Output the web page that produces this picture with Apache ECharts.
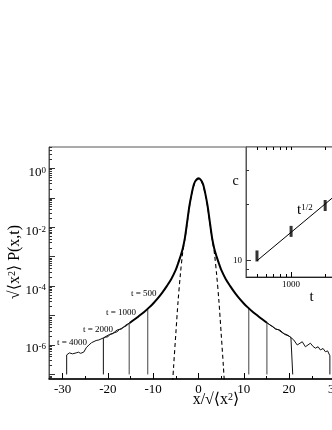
<!DOCTYPE html>
<html>
<head>
<meta charset="utf-8">
<title>Scaling function</title>
<script src="https://cdn.jsdelivr.net/npm/echarts@6/dist/echarts.min.js"></script>
<style>html,body{margin:0;padding:0;background:#fff;}</style>
</head>
<body>
<div id="main" style="width:332px;height:430px;"></div>
<script type="text/javascript">
var FONT = '"Liberation Serif", "DejaVu Serif", serif';

// main panel: x in units of sqrt(<x^2>), P scaled
var xTicks = [-30, -20, -10, 0, 10, 20, 30];
var xMinorTicks = [-25, -15, -5, 5, 15, 25];
var yLabelVals = [1e-6, 1e-4, 1e-2, 1];
var yDecades = [1e-7, 1e-6, 1e-5, 1e-4, 1e-3, 1e-2, 1e-1, 1];

// overlapping part of all curves (drawn thick)
var coreX = [-15.2, -14, -13, -12, -11, -10, -9, -8, -7, -6, -5, -4.5, -4, -3.5, -3, -2.5, -2, -1.5, -1, -0.5, 0,
             0.5, 1, 1.5, 2, 2.5, 3, 3.5, 4, 4.5, 5, 6, 7, 8, 9, 10, 11, 12, 13, 14, 15.1];
var coreP = [5.6e-6, 7.6e-6, 1.0e-5, 1.32e-5, 1.82e-5, 2.57e-5, 3.8e-5, 6.0e-5, 1.0e-4, 1.74e-4, 3.6e-4, 5.9e-4, 1.0e-3, 1.82e-3, 4.37e-3, 1.51e-2, 5.37e-2, 0.138, 0.295, 0.407, 0.457,
             0.407, 0.295, 0.138, 5.37e-2, 1.51e-2, 4.37e-3, 1.82e-3, 1.0e-3, 5.9e-4, 3.6e-4, 1.74e-4, 1.0e-4, 6.0e-5, 3.8e-5, 2.57e-5, 1.82e-5, 1.32e-5, 1.0e-5, 7.6e-6, 5.7e-6];

// dashed gaussian
var gaussX = [-5.8, -5.5, -5, -4.5, -4, -3.5, -3, -2.5, -2, -1.5, -1, -0.5, 0, 0.5, 1, 1.5, 2, 2.5, 3, 3.5, 4, 4.5, 5, 5.5, 5.8];
var gaussP = [3.2e-8, 1.8e-7, 2.5e-6, 3.2e-5, 2.5e-4, 1.35e-3, 3.98e-3, 1.41e-2, 5.0e-2, 0.132, 0.263, 0.380, 0.437,
              0.380, 0.263, 0.132, 5.0e-2, 1.41e-2, 3.98e-3, 1.35e-3, 2.5e-4, 3.2e-5, 2.5e-6, 1.8e-7, 3.2e-8];

// ends of each curve (drop to the floor)
var t500LX = [-11.2, -11.2], t500LP = [1.75e-5, 1e-7];
var t500RX = [11.1, 11.1], t500RP = [1.8e-5, 1e-7];
var t1000LX = [-15.3, -15.3], t1000LP = [5.5e-6, 1e-7];
var t1000RX = [15.1, 15.1], t1000RP = [5.7e-6, 1e-7];

var t2000LX = [-15.2, -16, -16.6, -17, -17.5, -18, -18.6, -19, -19.5, -20, -20.5, -21, -21];
var t2000LP = [5.6e-6, 4.4e-6, 4.0e-6, 3.7e-6, 3.3e-6, 2.8e-6, 2.6e-6, 2.5e-6, 2.3e-6, 1.9e-6, 1.85e-6, 1.7e-6, 1e-7];
var t2000RX = [15.1, 16, 16.5, 17, 17.6, 18, 18.5, 19, 19.6, 20, 20.4, 20.8, 20.8];
var t2000RP = [5.7e-6, 4.5e-6, 4.2e-6, 3.5e-6, 3.3e-6, 3.0e-6, 2.6e-6, 2.4e-6, 2.2e-6, 2.0e-6, 1.8e-6, 1.55e-6, 1e-7];

var t4000LX = [-15.2, -16, -17, -17.5, -18, -19, -19.6, -20, -21, -22, -22.6, -23, -23.6, -24.2, -24.8, -25.3, -26, -26.5, -27, -27.8, -28.5, -29.1, -29.1];
var t4000LP = [5.6e-6, 4.8e-6, 3.5e-6, 3.4e-6, 3.2e-6, 2.4e-6, 2.3e-6, 2.1e-6, 1.74e-6, 1.48e-6, 1.42e-6, 1.32e-6, 1.2e-6, 1.0e-6, 8.0e-7, 5.8e-7, 5.2e-7, 5.7e-7, 5.4e-7, 5.0e-7, 5.4e-7, 4.6e-7, 1e-7];
var t4000RX = [15.1, 16, 17, 18, 19, 20, 21, 21.8, 22.9, 23.6, 24.7, 25.3, 25.8, 26.4, 26.9, 27.5, 28.0, 28.5, 29.0, 29.0];
var t4000RP = [5.7e-6, 4.6e-6, 3.5e-6, 3.2e-6, 2.3e-6, 2.0e-6, 1.5e-6, 1.0e-6, 1.29e-6, 8.7e-7, 1.15e-6, 8.9e-7, 7.8e-7, 8.7e-7, 6.8e-7, 7.6e-7, 5.9e-7, 6.3e-7, 4.3e-7, 1e-7];

// inset: c vs t
var insetT = [500, 1000, 2000];
var insetC = [10.6, 14.3, 19.6];
var fitT = [500, 3180];
var fitC = [10, 25.2];
var insetTMajor = [1000];
var insetTMinor = [500, 600, 700, 800, 900, 2000, 3000];

var yMin = 7e-8, yMax = 5.3;

function pairs(xs, ys) {
	return xs.map(function (x, i) { return [x, ys[i]]; });
}

var yMinor = [];
for (var e = -8; e <= 0; e++) {
	for (var k = 2; k <= 9; k++) {
		var v = k * Math.pow(10, e);
		if (v > yMin && v < yMax) yMinor.push(v);
	}
}

var myChart = echarts.init(document.getElementById('main'));

function thin(name, xs, ys, color) {
	return {
		name: name, type: 'line', xAxisIndex: 0, yAxisIndex: 0,
		data: pairs(xs, ys), symbol: 'none', silent: true,
		lineStyle: { color: color || '#111', width: 1 }
	};
}

var option = {
	animation: false,
	backgroundColor: '#fff',
	grid: [
		// the frame runs past the right edge of the picture
		{ left: 49, top: 147, width: 299, bottom: 51, outerBoundsMode: 'none', containLabel: false,
		  show: true, borderColor: '#555', borderWidth: 1 },
		{ left: 246, top: 147, width: 102, bottom: 153, outerBoundsMode: 'none', containLabel: false,
		  show: true, borderColor: '#555', borderWidth: 1, backgroundColor: '#fff' }
	],
	xAxis: [
		{
			gridIndex: 0, type: 'value', min: -33, max: 33, position: 'bottom',
			axisLine: { onZero: false, lineStyle: { color: '#000', width: 1.5 } },
			axisTick: { inside: true, length: 6, customValues: xTicks, lineStyle: { color: '#000' } },
			axisLabel: { customValues: xTicks, fontFamily: FONT, fontSize: 13, color: '#000', margin: 4 },
			splitLine: { show: false }
		},
		{
			gridIndex: 0, type: 'value', min: -33, max: 33, position: 'bottom',
			axisLine: { show: false, onZero: false },
			axisTick: { inside: true, length: 3, customValues: xMinorTicks, lineStyle: { color: '#000' } },
			axisLabel: { show: false }, splitLine: { show: false }
		},
		{
			gridIndex: 1, type: 'log', min: 400, max: 3180, position: 'bottom',
			axisLine: { onZero: false, lineStyle: { color: '#222' } },
			axisTick: { inside: true, length: 5, customValues: insetTMajor, lineStyle: { color: '#000' } },
			axisLabel: {
				customValues: insetTMajor, fontFamily: FONT, fontSize: 9, color: '#000', margin: 3,
				formatter: function (v) { return String(Math.round(v)); }
			},
			splitLine: { show: false }
		},
		{
			gridIndex: 1, type: 'log', min: 400, max: 3180, position: 'bottom',
			axisLine: { show: false, onZero: false },
			axisTick: { inside: true, length: 3, customValues: insetTMinor, lineStyle: { color: '#000' } },
			axisLabel: { show: false }, splitLine: { show: false }
		},
		{
			gridIndex: 1, type: 'log', min: 400, max: 3180, position: 'top',
			axisLine: { show: false, onZero: false },
			axisTick: { inside: true, length: 3, customValues: insetTMinor.concat(insetTMajor), lineStyle: { color: '#000' } },
			axisLabel: { show: false }, splitLine: { show: false }
		}
	],
	yAxis: [
		{
			gridIndex: 0, type: 'log', min: yMin, max: yMax, position: 'left',
			axisLine: { onZero: false, lineStyle: { color: '#555' } },
			axisTick: { inside: true, length: 6, customValues: yDecades, lineStyle: { color: '#333' } },
			axisLabel: {
				customValues: yLabelVals, fontFamily: FONT, fontSize: 13, color: '#000', margin: 3,
				padding: [8, 0, 0, 0],
				formatter: function (v) {
					return '10{sup|' + Math.round(Math.log(v) / Math.LN10) + '}';
				},
				rich: { sup: { fontFamily: FONT, fontSize: 9, color: '#000', verticalAlign: 'top', lineHeight: 9 } }
			},
			splitLine: { show: false }
		},
		{
			gridIndex: 0, type: 'log', min: yMin, max: yMax, position: 'left',
			axisLine: { show: false, onZero: false },
			axisTick: { inside: true, length: 3, customValues: yMinor, lineStyle: { color: '#333' } },
			axisLabel: { show: false }, splitLine: { show: false }
		},
		{
			gridIndex: 1, type: 'log', min: 8.2, max: 40, position: 'left',
			axisLine: { onZero: false, lineStyle: { color: '#555' } },
			axisTick: { inside: true, length: 5, customValues: [10], lineStyle: { color: '#333' } },
			axisLabel: { customValues: [10], fontFamily: FONT, fontSize: 9, color: '#000', margin: 4 },
			splitLine: { show: false }
		},
		{
			gridIndex: 1, type: 'log', min: 8.2, max: 40, position: 'left',
			axisLine: { show: false, onZero: false },
			axisTick: { inside: true, length: 3, customValues: [9, 20, 30], lineStyle: { color: '#333' } },
			axisLabel: { show: false }, splitLine: { show: false }
		}
	],
	series: [
		{
			name: 'gauss', type: 'line', xAxisIndex: 0, yAxisIndex: 0,
			data: pairs(gaussX, gaussP), symbol: 'none', smooth: 0.3,
			lineStyle: { color: '#000', width: 1.1, type: [4, 3] }
		},
		thin('t500L', t500LX, t500LP, '#444'),
		thin('t500R', t500RX, t500RP, '#444'),
		thin('t1000L', t1000LX, t1000LP, '#444'),
		thin('t1000R', t1000RX, t1000RP, '#444'),
		thin('t2000L', t2000LX, t2000LP),
		thin('t2000R', t2000RX, t2000RP),
		thin('t4000L', t4000LX, t4000LP),
		thin('t4000R', t4000RX, t4000RP),
		{
			name: 'scaling', type: 'line', xAxisIndex: 0, yAxisIndex: 0,
			data: pairs(coreX, coreP), symbol: 'none', smooth: 0.3,
			lineStyle: { color: '#000', width: 2 }
		},
		{
			name: 'fit', type: 'line', xAxisIndex: 2, yAxisIndex: 2,
			data: pairs(fitT, fitC), symbol: 'none',
			lineStyle: { color: '#000', width: 1 }
		},
		{
			name: 'c', type: 'scatter', xAxisIndex: 2, yAxisIndex: 2,
			data: pairs(insetT, insetC), symbol: 'rect', symbolSize: [3, 11],
			itemStyle: { color: '#000' }
		}
	],
	graphic: [
		{ type: 'text', left: 131, top: 289, style: { text: 't = 500', font: '9px ' + FONT, fill: '#000' } },
		{ type: 'text', left: 106, top: 308, style: { text: 't = 1000', font: '9px ' + FONT, fill: '#000' } },
		{ type: 'text', left: 83, top: 325, style: { text: 't = 2000', font: '9px ' + FONT, fill: '#000' } },
		{ type: 'text', left: 57, top: 338, style: { text: 't = 4000', font: '9px ' + FONT, fill: '#000' } },
		{ type: 'text', x: 235.5, y: 181.5, style: { text: 'c', font: '14px ' + FONT, fill: '#000', align: 'center', verticalAlign: 'middle' } },
		{ type: 'text', x: 311.5, y: 297, style: { text: 't', font: '15px ' + FONT, fill: '#000', align: 'center', verticalAlign: 'middle' } },
		{
			type: 'text', x: 297, y: 203,
			style: {
				text: 't{s|1/2}', font: '15px ' + FONT, fill: '#000',
				rich: { s: { fontFamily: FONT, fontSize: 9, verticalAlign: 'top', lineHeight: 9 } }
			}
		},
		{
			type: 'text', x: 216, y: 400,
			style: {
				text: 'x/√⟨x{s|2}⟩', font: '16px ' + FONT, fill: '#000', align: 'center', verticalAlign: 'middle',
				rich: { s: { fontFamily: FONT, fontSize: 10, verticalAlign: 'top', lineHeight: 10 } }
			}
		},
		{
			type: 'text', x: 15, y: 262, rotation: Math.PI / 2,
			style: {
				text: '√⟨x{s|2}⟩ P(x,t)', font: '16px ' + FONT, fill: '#000', align: 'center', verticalAlign: 'middle',
				rich: { s: { fontFamily: FONT, fontSize: 10, verticalAlign: 'top', lineHeight: 10 } }
			}
		}
	]
};

myChart.setOption(option);
</script>
</body>
</html>
